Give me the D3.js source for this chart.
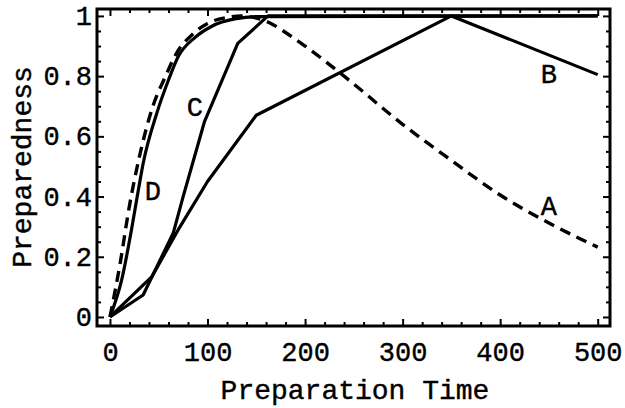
<!DOCTYPE html>
<html>
<head>
<meta charset="utf-8">
<script src="https://cdn.jsdelivr.net/npm/d3@7"></script>
<style>
  body { margin: 0; background: #fff; }
  svg text { font-family: "Liberation Mono", "Courier New", monospace; fill: #000; }
</style>
</head>
<body>
<div id="chart"></div>
<script>
// Preparedness vs preparation time, four strategies A-D

const timeA = [0, 10, 20, 30, 44, 57, 68, 85, 100, 120, 135, 150, 165, 180, 200, 240, 300, 350, 400, 450, 500];
const prepA = [0, 0.17, 0.37, 0.53, 0.70, 0.80, 0.875, 0.94, 0.975, 0.995, 1.0, 0.993, 0.975, 0.945, 0.90, 0.80, 0.64, 0.52, 0.405, 0.312, 0.232];

const timeB = [0, 43, 70, 100, 150, 350, 500];
const prepB = [0, 0.134, 0.29, 0.45, 0.67, 1.0, 0.805];

const timeC = [0, 34, 65, 75, 97, 131, 162, 500];
const prepC = [0, 0.073, 0.28, 0.40, 0.65, 0.909, 1.0, 1.0];

const timeD = [0, 12, 22, 29, 34, 48, 60, 70, 87, 104, 128, 155, 500];
const prepD = [0, 0.123, 0.289, 0.42, 0.51, 0.677, 0.787, 0.865, 0.928, 0.965, 0.99, 0.998, 1.0];

const curveLabels = ["A", "B", "C", "D"];
const labelTime = [450, 450, 87, 44];
const labelPrep = [0.37, 0.81, 0.70, 0.42];

const xTicks = [0, 100, 200, 300, 400, 500];
const yTicks = [0, 0.2, 0.4, 0.6, 0.8, 1];

const width = 625, height = 408;
const frame = { left: 97, right: 610, top: 9, bottom: 326 };

const svg = d3.select("#chart").append("svg")
    .attr("width", width)
    .attr("height", height);

const x = d3.scaleLinear().domain([-13.3, 512.6]).range([frame.left, frame.right]);
const y = d3.scaleLinear().domain([-0.03, 1.023]).range([frame.bottom, frame.top]);

const zip = (t, v) => t.map((d, i) => ({ t: d, v: v[i] }));

// frame ticks, pointing inward on all four sides
const minorX = d3.range(0, 501, 20).filter(d => d % 100 !== 0);
const minorY = d3.range(0, 1.001, 0.05).filter(d => Math.abs(d * 5 - Math.round(d * 5)) > 1e-6);

svg.append("g")
    .attr("transform", `translate(0,${frame.bottom})`)
    .call(d3.axisBottom(x).tickValues(xTicks).tickSize(-7).tickFormat(d3.format("d")).tickPadding(12))
    .call(g => g.select(".domain").remove())
    .call(g => g.selectAll("text").attr("font-size", 27).attr("dy", "0.85em"))
    .call(g => g.selectAll("line").attr("stroke-width", 2));

svg.append("g")
    .attr("transform", `translate(0,${frame.bottom})`)
    .call(d3.axisBottom(x).tickValues(minorX).tickSize(-4).tickFormat(""))
    .call(g => g.select(".domain").remove())
    .call(g => g.selectAll("line").attr("stroke-width", 2));

svg.append("g")
    .attr("transform", `translate(0,${frame.top})`)
    .call(d3.axisTop(x).tickValues(xTicks).tickSize(-7).tickFormat(""))
    .call(g => g.select(".domain").remove())
    .call(g => g.selectAll("line").attr("stroke-width", 2));

svg.append("g")
    .attr("transform", `translate(0,${frame.top})`)
    .call(d3.axisTop(x).tickValues(minorX).tickSize(-4).tickFormat(""))
    .call(g => g.select(".domain").remove())
    .call(g => g.selectAll("line").attr("stroke-width", 2));

svg.append("g")
    .attr("transform", `translate(${frame.left},0)`)
    .call(d3.axisLeft(y).tickValues(yTicks).tickSize(-7).tickPadding(5)
        .tickFormat(d => d === 0 ? "0" : d === 1 ? "1" : d3.format(".1f")(d)))
    .call(g => g.select(".domain").remove())
    .call(g => g.selectAll("text").attr("font-size", 27))
    .call(g => g.selectAll("line").attr("stroke-width", 2));

svg.append("g")
    .attr("transform", `translate(${frame.left},0)`)
    .call(d3.axisLeft(y).tickValues(minorY).tickSize(-4).tickFormat(""))
    .call(g => g.select(".domain").remove())
    .call(g => g.selectAll("line").attr("stroke-width", 2));

svg.append("g")
    .attr("transform", `translate(${frame.right},0)`)
    .call(d3.axisRight(y).tickValues(yTicks).tickSize(-7).tickFormat(""))
    .call(g => g.select(".domain").remove())
    .call(g => g.selectAll("line").attr("stroke-width", 2));

svg.append("g")
    .attr("transform", `translate(${frame.right},0)`)
    .call(d3.axisRight(y).tickValues(minorY).tickSize(-4).tickFormat(""))
    .call(g => g.select(".domain").remove())
    .call(g => g.selectAll("line").attr("stroke-width", 2));

svg.selectAll("g.tick text").attr("stroke", "#000").attr("stroke-width", 0.4);

// frame box
svg.append("rect")
    .attr("x", frame.left)
    .attr("y", frame.top)
    .attr("width", frame.right - frame.left)
    .attr("height", frame.bottom - frame.top)
    .attr("fill", "none")
    .attr("stroke", "#000")
    .attr("stroke-width", 3);

const smooth = d3.line().curve(d3.curveMonotoneX).x(d => x(d.t)).y(d => y(d.v));
const straight = d3.line().x(d => x(d.t)).y(d => y(d.v));

svg.append("path")
    .datum(zip(timeD, prepD))
    .attr("fill", "none").attr("stroke", "#000").attr("stroke-width", 3.2)
    .attr("stroke-linejoin", "round")
    .attr("d", smooth);

svg.append("path")
    .datum(zip(timeC, prepC))
    .attr("fill", "none").attr("stroke", "#000").attr("stroke-width", 3.2)
    .attr("stroke-linejoin", "round")
    .attr("d", straight);

svg.append("path")
    .datum(zip(timeB, prepB))
    .attr("fill", "none").attr("stroke", "#000").attr("stroke-width", 3.2)
    .attr("stroke-linejoin", "round")
    .attr("d", straight);

svg.append("path")
    .datum(zip(timeA, prepA))
    .attr("fill", "none").attr("stroke", "#000").attr("stroke-width", 3.4)
    .attr("stroke-dasharray", "11,7")
    .attr("stroke-linecap", "butt")
    .attr("d", smooth);

// curve labels
svg.selectAll("text.curve")
    .data(curveLabels)
    .join("text")
    .attr("class", "curve")
    .attr("x", (d, i) => x(labelTime[i]))
    .attr("y", (d, i) => y(labelPrep[i]))
    .attr("dy", "0.35em")
    .attr("text-anchor", "middle")
    .attr("font-size", 27)
    .attr("stroke", "#000").attr("stroke-width", 0.4)
    .text(d => d);

// axis titles
svg.append("text")
    .attr("x", 355)
    .attr("y", 399)
    .attr("text-anchor", "middle")
    .attr("font-size", 28)
    .attr("stroke", "#000").attr("stroke-width", 0.4)
    .text("Preparation Time");

svg.append("text")
    .attr("transform", "translate(31,167) rotate(-90)")
    .attr("text-anchor", "middle")
    .attr("font-size", 28)
    .attr("stroke", "#000").attr("stroke-width", 0.4)
    .text("Preparedness");
</script>
</body>
</html>
